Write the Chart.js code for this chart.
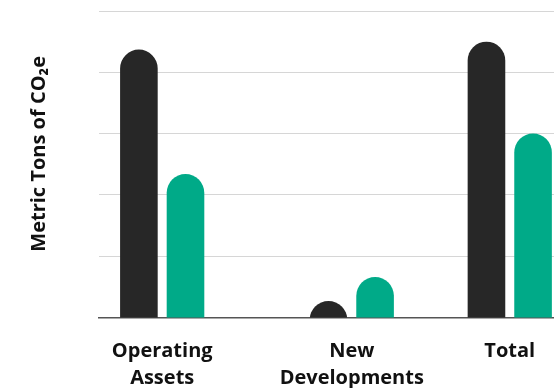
<!DOCTYPE html>
<html>
<head>
<meta charset="utf-8">
<script src="https://cdn.jsdelivr.net/npm/chart.js@4/dist/chart.umd.min.js"></script>
<style>
  html, body { margin: 0; padding: 0; background: #fff; }
  #wrap { width: 554px; height: 388px; position: relative; }
</style>
</head>
<body>
<div id="wrap"><canvas id="barchart"></canvas></div>
<script>
// categories and where each group sits along the x axis
const categories = [['Operating', 'Assets'], ['New', 'Developments'], ['Total']];
const groupPos = [2, 8, 13];

// metric tons of CO2e, in gridline units
const darkValues = [4.37, 0.27, 4.50];
const greenValues = [2.34, 0.66, 3.0];

const yTicks = [0, 1, 2, 3, 4, 5];

// bars start a little below the axis so small bars keep the full round top
const barFloor = -0.4;

function toPoints(values) {
  return values.map(function (v, i) {
    return { x: groupPos[i], y: v };
  });
}

document.addEventListener("DOMContentLoaded", function () {

const ctx = document.getElementById('barchart');
if(ctx){
new Chart(ctx, {
  type: 'bar',
  data: {
    datasets: [{
      label: 'dark',
      data: toPoints(darkValues),
      base: barFloor,
      backgroundColor: '#272727',
      borderWidth: 0,
      borderRadius: 100, // fully rounded tops
      borderSkipped: 'start',
      clip: 0 // cut the bars at the baseline
    }, {
      label: 'green',
      data: toPoints(greenValues),
      base: barFloor,
      backgroundColor: '#00aa88',
      borderWidth: 0,
      borderRadius: 100,
      borderSkipped: 'start',
      clip: 0
    }]
  },
  options: {
    responsive: true,
    maintainAspectRatio: false,
    animation: false,
    categoryPercentage: 0.59,
    barPercentage: 0.807,
    layout: { padding: { top: 11, right: 0, bottom: 0, left: 0 } },
    plugins: {
      legend: { display: false },
      tooltip: { enabled: false }
    },
    scales: {
      x: {
        type: 'linear',
        offset: false,
        min: 0,
        max: 14.4,
        afterBuildTicks: function (axis) {
          axis.ticks = groupPos.map(function (v) { return { value: v }; });
        },
        afterFit: function (axis) { axis.height = 70.5; },
        grid: { display: false, offset: false },
        border: { display: true, color: '#555555', width: 1.5 },
        ticks: {
          padding: 12,
          color: '#111111',
          maxRotation: 0,
          autoSkip: false,
          font: { family: 'Open Sans', weight: 'bold', size: 20, lineHeight: 1.37 },
          callback: function (value) {
            return categories[groupPos.indexOf(value)];
          }
        }
      },
      y: {
        min: 0,
        max: 5,
        afterBuildTicks: function (axis) {
          axis.ticks = yTicks.map(function (v) { return { value: v }; });
        },
        afterFit: function (axis) { axis.width = 99; },
        ticks: { display: false },
        border: { display: false },
        grid: {
          drawTicks: false,
          lineWidth: 1,
          color: function (c) { return c.tick && c.tick.value === 0 ? '#555555' : '#d6d6d6'; }
        },
        title: {
          display: true,
          text: '\u00a0\u00a0\u00a0\u00a0Metric Tons of CO₂e',
          color: '#111111',
          padding: { top: 27, bottom: 0 },
          font: { family: 'Open Sans', weight: 'bold', size: 20 }
        }
      }
    }
  }
});}
else{
  console.error('canvas elemet with ID "barchart" not found');
}});
</script>
</body>
</html>
